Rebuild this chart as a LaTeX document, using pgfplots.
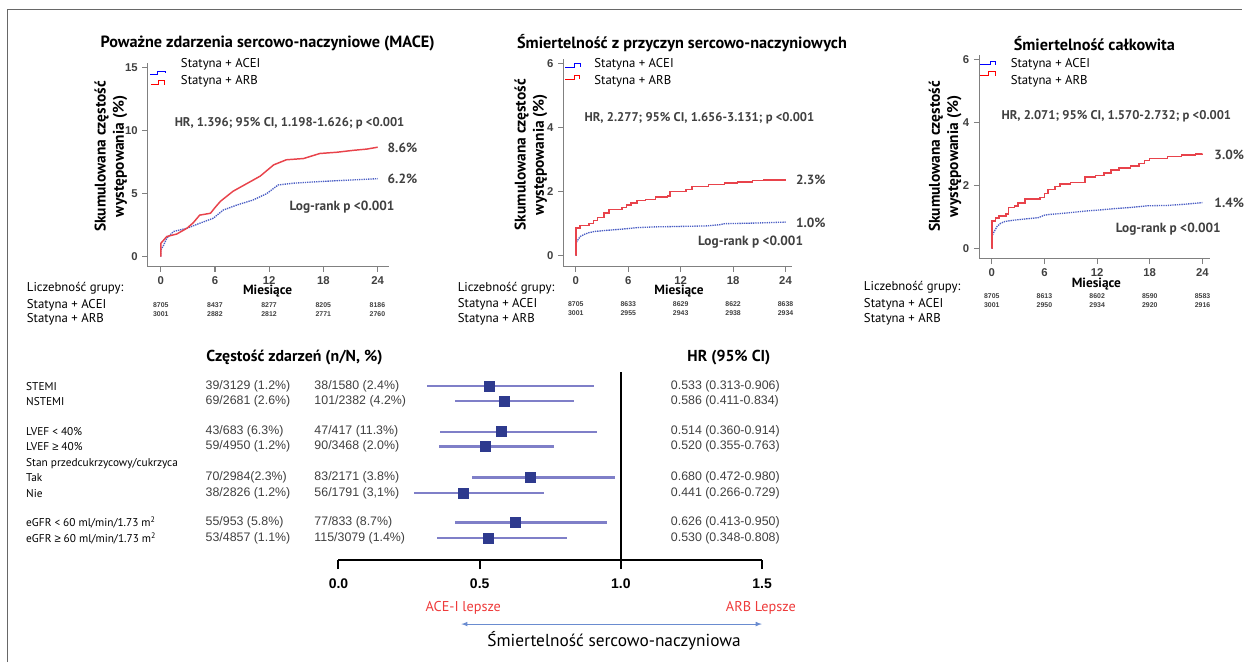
\documentclass[border=0pt]{standalone}
\usepackage{pgfplots}
\pgfplotsset{compat=1.18}
\usepackage{pgfplotstable}
\usepackage{fontspec}
\setmainfont{PT Sans}
\newfontfamily\arial{Liberation Sans}
\definecolor{arbred}{HTML}{E8434B}
\definecolor{aceblue}{HTML}{4B5EC4}
\definecolor{axgray}{HTML}{808080}
\definecolor{txtgray}{HTML}{404040}
\definecolor{lav}{HTML}{7F7FC8}
\definecolor{navy}{HTML}{2E3A8E}
\definecolor{lred}{HTML}{EE3B3B}
\definecolor{arrowblue}{HTML}{6A8CD0}
\newcommand\fs[1]{\fontsize{#1}{#1}\selectfont}
\newcommand\frow[5]{%
 \node[anchor=west, font=\fs{8.5}, inner sep=0] at (26,#1) {#2};
 \node[anchor=west, font=\arial\fs{9.3}, text=txtgray, inner sep=0] at (205.7,#1) {#3};
 \node[anchor=west, font=\arial\fs{9.3}, text=txtgray, inner sep=0] at (314.7,#1) {#4};
 \node[anchor=west, font=\arial\fs{9.3}, text=txtgray, inner sep=0] at (671.7,#1) {#5};}

\pgfplotstableread{
y hr lo hi
-386.7 0.533 0.313 0.906
-401.7 0.586 0.411 0.834
-432.3 0.577 0.360 0.914
-447.3 0.520 0.355 0.763
-478.3 0.680 0.472 0.980
-494.0 0.441 0.266 0.729
-523.3 0.626 0.413 0.950
-539.0 0.530 0.348 0.808
}\forest

\pgfplotsset{km/.style={scale only axis, axis lines=left,
  axis line style={-, axgray, line width=0.8pt},
  tick style={axgray, line width=0.8pt}, tick align=outside,
  major tick length=4pt, xtick={0,6,12,18,24},
  ticklabel style={font=\arial\bfseries\fs{8.5}, text=txtgray},
  /pgf/number format/assume math mode=true, clip=false},
  red/.style={arbred, line width=1.1pt},
  blue/.style={aceblue, line width=1pt, dash pattern=on 1pt off 0.7pt}}

\begin{document}
\begin{tikzpicture}
\begin{scope}[x=0.75pt,y=-0.75pt,yshift=497.25pt]
\useasboundingbox (0,0) rectangle (1244,663);
\end{scope}

% ---------- KM 1 ----------
\begin{axis}[km, at={(111pt,297pt)}, anchor=south west, width=181.5pt, height=153pt,
  xmin=-1.44, xmax=25.3, ymin=-0.79, ymax=15.4, ytick={0,5,10,15}]
\addplot[blue] coordinates {(0,0)(0,0.53)(0.3,0.9)(0.66,1.46)(1.4,2.0)(2.9,2.26)(4.3,2.65)(5.8,3.05)(6.9,3.7)(8.4,4.1)(10.2,4.5)(11.7,5.0)(13,5.7)(14.7,5.84)(17.6,5.97)(21.3,6.1)(24,6.2)};
\addplot[red] coordinates {(0,0)(0,1.06)(0.3,1.3)(0.66,1.6)(1.77,1.8)(2.9,2.26)(3.6,2.7)(4.3,3.3)(5.5,3.45)(6.0,3.9)(6.6,4.4)(8,5.2)(9.5,5.8)(11,6.4)(12.5,7.3)(13.9,7.7)(15.8,7.8)(17.6,8.2)(19.5,8.3)(21.3,8.45)(22.8,8.55)(24,8.7)};
\end{axis}

% ---------- KM 2 ----------
\begin{axis}[km, at={(423.2pt,297.2pt)}, anchor=south west, width=171.75pt, height=155.55pt,
  xmin=-1.42, xmax=24.75, ymin=-0.33, ymax=6.13, ytick={0,2,4,6}]
\addplot[blue] coordinates {(0,0)(0,0.39)(0.2,0.48)(0.5,0.6)(1.0,0.67)(1.5,0.72)(2.2,0.76)(3.4,0.79)(5.3,0.83)(7.2,0.88)(9,0.9)(11,0.91)(14.9,0.93)(16.5,0.97)(17,1.0)(20.6,1.02)(24,1.05)};
\addplot[red, const plot] coordinates {(0,0)(0.02,0.86)(0.5,0.95)(1.5,1.0)(2.0,1.1)(2.5,1.2)(3.2,1.33)(3.8,1.45)(5.3,1.5)(5.8,1.58)(6.3,1.64)(7.0,1.72)(8.0,1.76)(9.1,1.83)(10.5,1.87)(10.8,2.0)(12.6,2.06)(13.3,2.16)(15.2,2.22)(17.0,2.27)(18.5,2.3)(20.2,2.34)(21.5,2.37)(24,2.37)};
\end{axis}

% ---------- KM 3 ----------
\begin{axis}[km, at={(735.5pt,302.8pt)}, anchor=south west, width=173.25pt, height=153.2pt,
  xmin=-1.43, xmax=24.85, ymin=-0.33, ymax=6.16, ytick={0,2,4,6}]
\addplot[blue] coordinates {(0,0)(0,0.39)(0.3,0.55)(0.6,0.7)(1.0,0.8)(1.5,0.86)(2.5,0.9)(3.5,0.93)(5.3,0.98)(6.0,1.06)(6.5,1.08)(8.5,1.13)(11,1.2)(12,1.22)(14,1.27)(16,1.31)(17.8,1.36)(20,1.37)(22,1.41)(24,1.46)};
\addplot[red, const plot] coordinates {(0,0)(0.02,0.87)(0.4,0.97)(0.8,1.03)(1.6,1.1)(1.9,1.3)(2.6,1.35)(3.0,1.45)(3.8,1.58)(5.5,1.62)(6.0,1.75)(6.4,1.87)(7.2,1.97)(7.8,2.05)(9.0,2.1)(10.6,2.28)(11.8,2.33)(12.8,2.4)(13.6,2.5)(14.5,2.56)(15.8,2.62)(16.8,2.7)(17.4,2.8)(18,2.87)(20,2.92)(21.6,2.97)(23.2,3.0)(24,3.02)};
\end{axis}

% ---------- Forest ----------
\begin{axis}[scale only axis, at={(254.25pt,76.5pt)}, anchor=south west, width=318.2pt, height=141pt,
  xmin=0, xmax=1.5, ymin=-561, ymax=-373, clip=false,
  axis y line=none, axis x line*=bottom, x axis line style={-, black, line width=1.5pt},
  xtick={0,0.5,1,1.5}, xticklabels={0.0,0.5,1.0,1.5},
  tick style={black, line width=1.5pt}, tick align=outside, major tick length=6.75pt,
  xticklabel style={font=\arial\bfseries\fs{10.5}, yshift=-3.5pt}]
\addplot[black, line width=1.9pt] coordinates {(1,-561)(1,-373)};
\addplot[only marks, mark=square*, mark size=3.75pt, mark options={draw=navy, fill=navy},
  error bars/.cd, x dir=both, x explicit, error mark=none,
  error bar style={lav, line width=1.7pt}]
  table[x=hr, y=y, x error plus expr=\thisrow{hi}-\thisrow{hr}, x error minus expr=\thisrow{hr}-\thisrow{lo}] {\forest};
\end{axis}

\begin{scope}[x=0.75pt,y=-0.75pt,yshift=497.25pt]
% frame
\draw[axgray!80!black, line width=1.1pt] (7.3,663) -- (7.3,9.3) -- (1244,9.3);

% ===== KM1 texts
\node[font=\bfseries\fs{12.2}] at (268,44) {Poważne zdarzenia sercowo-naczyniowe (MACE)};
\draw[blue] (150,74.3) -- (158,74.3) -- (158,71.7) -- (166,71.7) -- (166,73);
\draw[red] (151,84.3) -- (158.3,84.3) -- (158.3,80.7) -- (165,80.7) -- (165,85);
\node[anchor=west, font=\fs{9.6}, inner sep=0] at (181,64.3) {Statyna + ACEI};
\node[anchor=west, font=\fs{9.6}, inner sep=0] at (181,81.7) {Statyna + ARB};
\node[font=\bfseries\fs{9.5}, text=txtgray] at (290,123.3) {HR, 1.396; 95\% CI, 1.198-1.626; p <0.001};
\node[anchor=west, font=\bfseries\fs{10}, text=txtgray, inner sep=0] at (388,148.3) {8.6\%};
\node[anchor=west, font=\bfseries\fs{10}, text=txtgray, inner sep=0] at (388,179) {6.2\%};
\node[font=\bfseries\fs{10}, text=txtgray] at (342.5,207.7) {Log-rank p <0.001};
\node[rotate=90, align=center, font=\bfseries\fontsize{11.6}{13.7}\selectfont] at (111,156.7) {Skumulowana częstość\\ występowania (\%)};
\node[font=\bfseries\fs{10}] at (268,291.7) {Miesiące};
\node[anchor=west, font=\fs{9.6}, inner sep=0] at (26.7,288.3) {Liczebność grupy:};
\node[anchor=west, font=\fs{9.6}, inner sep=0] at (26.7,306) {Statyna + ACEI};
\node[anchor=west, font=\fs{9.6}, inner sep=0] at (26.7,320) {Statyna + ARB};
\foreach \x/\a/\b in {161/8705/3001, 215.25/8437/2882, 269.5/8277/2812, 323.75/8205/2771, 378/8186/2760}{
  \node[font=\arial\bfseries\fs{5.2}, text=txtgray, inner sep=0] at (\x,306) {\a};
  \node[font=\arial\bfseries\fs{5.2}, text=txtgray, inner sep=0] at (\x,314.3) {\b};}

% ===== KM2 texts
\node[font=\bfseries\fs{12.2}] at (683,43.3) {Śmiertelność z przyczyn sercowo-naczyniowych};
\draw[blue] (566,67.3) -- (575,67.3) -- (575,63.3) -- (580.7,63.3) -- (580.7,67.3);
\draw[red] (566,79.3) -- (575,79.3) -- (575,75) -- (580,75) -- (580,79.3);
\node[anchor=west, font=\fs{9.6}, inner sep=0] at (595,64.3) {Statyna + ACEI};
\node[anchor=west, font=\fs{9.6}, inner sep=0] at (595,81.7) {Statyna + ARB};
\node[font=\bfseries\fs{9.5}, text=txtgray] at (700.5,118.3) {HR, 2.277; 95\% CI, 1.656-3.131; p <0.001};
\node[anchor=west, font=\bfseries\fs{10}, text=txtgray, inner sep=0] at (797,180) {2.3\%};
\node[anchor=west, font=\bfseries\fs{10}, text=txtgray, inner sep=0] at (797,222.7) {1.0\%};
\node[font=\bfseries\fs{10}, text=txtgray] at (751.7,242.3) {Log-rank p <0.001};
\node[rotate=90, align=center, font=\bfseries\fontsize{11.6}{13.7}\selectfont] at (531.8,155) {Skumulowana częstość\\ występowania (\%)};
\node[font=\bfseries\fs{10}] at (680,291.7) {Miesiące};
\node[anchor=west, font=\fs{9.6}, inner sep=0] at (458.3,288.3) {Liczebność grupy:};
\node[anchor=west, font=\fs{9.6}, inner sep=0] at (458.3,305) {Statyna + ACEI};
\node[anchor=west, font=\fs{9.6}, inner sep=0] at (458.3,320) {Statyna + ARB};
\foreach \x/\a/\b in {576.7/8705/3001, 629.2/8633/2955, 681.7/8629/2943, 734.2/8622/2938, 786.7/8638/2934}{
  \node[font=\arial\bfseries\fs{5.2}, text=txtgray, inner sep=0] at (\x,305) {\a};
  \node[font=\arial\bfseries\fs{5.2}, text=txtgray, inner sep=0] at (\x,314) {\b};}

% ===== KM3 texts
\node[font=\bfseries\fs{12.2}] at (1096,43.3) {Śmiertelność całkowita};
\draw[blue] (981.7,64.3) -- (991.7,64.3) -- (991.7,61.7) -- (996.7,61.7) -- (996.7,65);
\draw[red] (981.7,75) -- (990,75) -- (990,71.7) -- (996.7,71.7) -- (996.7,76);
\node[anchor=west, font=\fs{9.6}, inner sep=0] at (1012,64.3) {Statyna + ACEI};
\node[anchor=west, font=\fs{9.6}, inner sep=0] at (1012,81.7) {Statyna + ARB};
\node[font=\bfseries\fs{9.5}, text=txtgray] at (1118,116.7) {HR, 2.071; 95\% CI, 1.570-2.732; p <0.001};
\node[anchor=west, font=\bfseries\fs{10}, text=txtgray, inner sep=0] at (1216,155) {3.0\%};
\node[anchor=west, font=\bfseries\fs{10}, text=txtgray, inner sep=0] at (1216,202.7) {1.4\%};
\node[font=\bfseries\fs{10}, text=txtgray] at (1170,229.3) {Log-rank p <0.001};
\node[rotate=90, align=center, font=\bfseries\fontsize{11.6}{13.7}\selectfont] at (946.6,156.7) {Skumulowana częstość\\ występowania (\%)};
\node[font=\bfseries\fs{10}] at (1098,285) {Miesiące};
\node[anchor=west, font=\fs{9.6}, inner sep=0] at (865,287.3) {Liczebność grupy:};
\node[anchor=west, font=\fs{9.6}, inner sep=0] at (865,305) {Statyna + ACEI};
\node[anchor=west, font=\fs{9.6}, inner sep=0] at (865,320) {Statyna + ARB};
\foreach \x/\a/\b in {993.3/8705/3001, 1046/8613/2950, 1098.8/8602/2934, 1151.5/8590/2920, 1204.3/8583/2916}{
  \node[font=\arial\bfseries\fs{5.2}, text=txtgray, inner sep=0] at (\x,296.7) {\a};
  \node[font=\arial\bfseries\fs{5.2}, text=txtgray, inner sep=0] at (\x,306) {\b};}

% ===== Forest texts
\node[font=\bfseries\fs{11.9}] at (295,358) {Częstość zdarzeń (n/N, \%)};
\node[font=\bfseries\fs{11.9}] at (730,358) {HR (95\% CI)};
\frow{386.7}{STEMI}{39/3129 (1.2\%)}{38/1580 (2.4\%)}{0.533 (0.313-0.906)}
\frow{401.7}{NSTEMI}{69/2681 (2.6\%)}{101/2382 (4.2\%)}{0.586 (0.411-0.834)}
\frow{432.3}{LVEF < 40\%}{43/683 (6.3\%)}{47/417 (11.3\%)}{0.514 (0.360-0.914)}
\frow{447.3}{LVEF {\arial ≥} 40\%}{59/4950 (1.2\%)}{90/3468 (2.0\%)}{0.520 (0.355-0.763)}
\frow{478.3}{Tak}{70/2984(2.3\%)}{83/2171 (3.8\%)}{0.680 (0.472-0.980)}
\frow{494}{Nie}{38/2826 (1.2\%)}{56/1791 (3,1\%)}{0.441 (0.266-0.729)}
\frow{523.3}{eGFR < 60 ml/min/1.73 m\textsuperscript{2}}{55/953 (5.8\%)}{77/833 (8.7\%)}{0.626 (0.413-0.950)}
\frow{539}{eGFR {\arial ≥} 60 ml/min/1.73 m\textsuperscript{2}}{53/4857 (1.1\%)}{115/3079 (1.4\%)}{0.530 (0.348-0.808)}
\node[anchor=west, font=\fs{8.5}, inner sep=0] at (26,464.3) {Stan przedcukrzycowy/cukrzyca};

\node[font=\fs{10.7}, text=lred] at (464,609) {ACE-I lepsze};
\node[font=\fs{10.7}, text=lred] at (762,609) {ARB Lepsze};
\draw[arrowblue, line width=0.6pt, <->, >=latex] (462,625) -- (763,625);
\node[font=\fs{13}] at (615,642) {Śmiertelność sercowo-naczyniowa};
\end{scope}
\end{tikzpicture}
\end{document}
